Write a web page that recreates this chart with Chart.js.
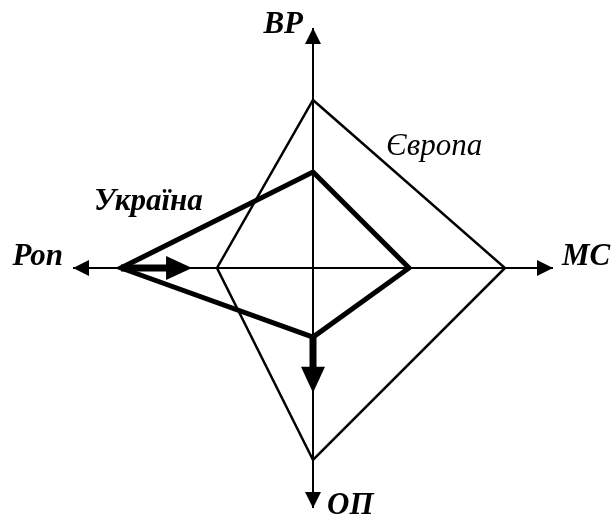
<!DOCTYPE html>
<html>
<head>
<meta charset="utf-8">
<script src="https://cdn.jsdelivr.net/npm/chart.js@4.4.1/dist/chart.umd.min.js"></script>
<style>
  body { margin: 0; background: #fff; }
</style>
</head>
<body>
<canvas id="radarChart" width="615" height="516"></canvas>
<script>
// axes, clockwise from the top
var axisLabels = ['ВР', 'МС', 'ОП', 'Роп'];
var axisMax = 12.5;

var europe = [8.75, 10, 10, 5];
var ukraine = [5, 5, 3.6, 10];

// shift arrows: axis index, from value, to value
var arrowAxis = [3, 2];
var arrowFrom = [10, 3.6];
var arrowTo = [6.3, 6.5];

var FONT = '"Liberation Serif", "Times New Roman", serif';

function drawHead(ctx, x1, y1, x2, y2, len, half) {
    var a = Math.atan2(y2 - y1, x2 - x1);
    ctx.beginPath();
    ctx.moveTo(x2, y2);
    ctx.lineTo(x2 - len * Math.cos(a) + half * Math.sin(a), y2 - len * Math.sin(a) - half * Math.cos(a));
    ctx.lineTo(x2 - len * Math.cos(a) - half * Math.sin(a), y2 - len * Math.sin(a) + half * Math.cos(a));
    ctx.closePath();
    ctx.fill();
}

var arrowsPlugin = {
    id: 'arrows',
    afterDatasetsDraw: function (chart) {
        var ctx = chart.ctx;
        var r = chart.scales.r;
        ctx.save();
        ctx.fillStyle = '#000';
        ctx.strokeStyle = '#000';

        // heads on the axis ends
        for (var i = 0; i < axisLabels.length; i++) {
            var tip = r.getPointPositionForValue(i, axisMax);
            drawHead(ctx, r.xCenter, r.yCenter, tip.x, tip.y, 16, 8);
        }

        // thick shift arrows
        for (var k = 0; k < arrowAxis.length; k++) {
            var p1 = r.getPointPositionForValue(arrowAxis[k], arrowFrom[k]);
            var p2 = r.getPointPositionForValue(arrowAxis[k], arrowTo[k]);
            var a = Math.atan2(p2.y - p1.y, p2.x - p1.x);
            ctx.lineWidth = 7;
            ctx.lineCap = 'butt';
            ctx.beginPath();
            ctx.moveTo(p1.x, p1.y);
            ctx.lineTo(p2.x - 20 * Math.cos(a), p2.y - 20 * Math.sin(a));
            ctx.stroke();
            drawHead(ctx, p1.x, p1.y, p2.x, p2.y, 26, 12);
        }
        ctx.restore();
    },
    afterDraw: function (chart) {
        var ctx = chart.ctx;
        var r = chart.scales.r;
        ctx.save();
        ctx.fillStyle = '#000';
        ctx.font = 'italic bold 31px ' + FONT;

        var top = r.getPointPositionForValue(0, axisMax);
        ctx.textAlign = 'right';
        ctx.textBaseline = 'alphabetic';
        ctx.fillText(axisLabels[0], top.x - 10, top.y + 5);

        var right = r.getPointPositionForValue(1, axisMax);
        ctx.textAlign = 'left';
        ctx.fillText(axisLabels[1], right.x + 9, right.y - 3);

        var bottom = r.getPointPositionForValue(2, axisMax);
        ctx.fillText(axisLabels[2], bottom.x + 14, bottom.y + 6);

        var left = r.getPointPositionForValue(3, axisMax);
        ctx.textAlign = 'right';
        ctx.fillText(axisLabels[3], left.x - 10, left.y - 3);

        // series names
        ctx.textAlign = 'left';
        ctx.font = 'italic bold 31px ' + FONT;
        ctx.fillText(chart.data.datasets[1].label, r.xCenter - 219, r.yCenter - 58);
        ctx.font = 'italic 31px ' + FONT;
        ctx.fillText(chart.data.datasets[0].label, r.xCenter + 73, r.yCenter - 113);
        ctx.restore();
    }
};

var ctx = document.getElementById('radarChart');
var chart = new Chart(ctx, {
    type: 'radar',
    data: {
        labels: axisLabels,
        datasets: [{
            label: 'Європа',
            data: europe,
            borderColor: '#000',
            borderWidth: 2.5,
            fill: false,
            pointRadius: 0,
            tension: 0
        }, {
            label: 'Україна',
            data: ukraine,
            borderColor: '#000',
            borderWidth: 5,
            fill: false,
            pointRadius: 0,
            tension: 0
        }]
    },
    options: {
        responsive: false,
        animation: false,
        layout: { padding: { left: 60, right: 49, top: 28, bottom: 8 } },
        plugins: {
            legend: { display: false },
            tooltip: { enabled: false }
        },
        scales: {
            r: {
                min: 0,
                max: axisMax,
                ticks: { display: false },
                grid: { display: false },
                pointLabels: { display: false },
                angleLines: { color: '#000', lineWidth: 2 }
            }
        }
    },
    plugins: [arrowsPlugin]
});
</script>
</body>
</html>
